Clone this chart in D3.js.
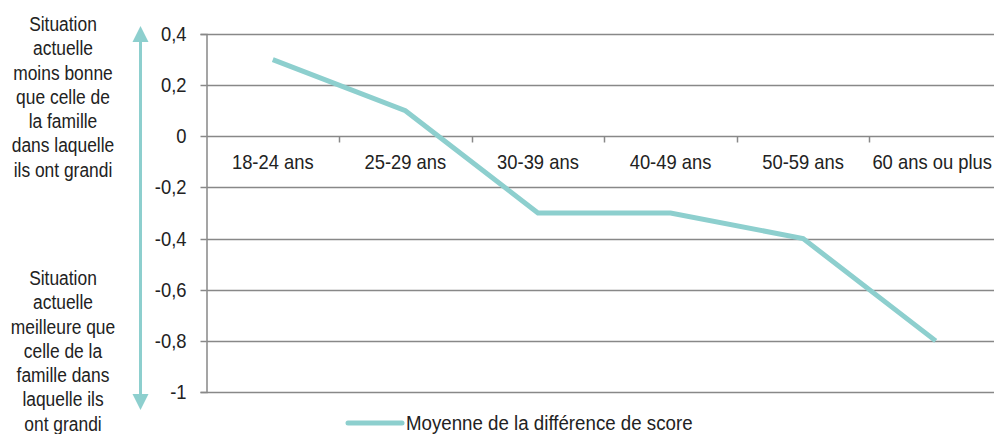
<!DOCTYPE html>
<html>
<head>
<meta charset="utf-8">
<script src="https://cdn.jsdelivr.net/npm/d3@7"></script>
<style>
  body { margin: 0; background: #fff; }
  svg { display: block; font-family: "Liberation Sans Narrow", "Arial Narrow", "Liberation Sans", Arial, sans-serif; }
</style>
</head>
<body>
<div id="chart"></div>
<script>
const categories = ["18-24 ans", "25-29 ans", "30-39 ans", "40-49 ans", "50-59 ans", "60 ans ou plus"];
const valeurs = [0.3, 0.1, -0.3, -0.3, -0.4, -0.8];
const yTicks = [0.4, 0.2, 0, -0.2, -0.4, -0.6, -0.8, -1];
const texteHaut = ["Situation", "actuelle", "moins bonne", "que celle de", "la famille", "dans laquelle", "ils ont grandi"];
const texteBas = ["Situation", "actuelle", "meilleure que", "celle de la", "famille dans", "laquelle ils", "ont grandi"];
const legende = "Moyenne de la différence de score";

const width = 994;
const height = 434;
const margin = { top: 34, right: -8, bottom: 42, left: 206.5 };
const teal = "#8dcfce";
const grid = "#888";
const taille = 20;

// police étroite absente : on resserre le texte à la main
const serrer = (sel, k, x0) => {
  sel.attr("transform", `scale(${k},1)`).attr("x", x0 / k);
};

const svg = d3
  .select("#chart")
  .append("svg")
  .attr("width", width)
  .attr("height", height);

const x = d3
  .scaleBand()
  .domain(categories)
  .range([margin.left, width - margin.right]);

const y = d3
  .scaleLinear()
  .domain([-1, 0.4])
  .range([height - margin.bottom, margin.top]);

const py = (v) => Math.round(y(v)) + 0.5;

// lignes horizontales
svg
  .append("g")
  .selectAll("line")
  .data(yTicks)
  .enter()
  .append("line")
  .attr("x1", margin.left)
  .attr("x2", width)
  .attr("y1", py)
  .attr("y2", py)
  .attr("stroke", grid)
  .attr("stroke-width", 1.5);

// axe vertical
const formatY = (d) => {
  if (d === 0) return "0";
  if (Math.abs(d) === 1) return d < 0 ? "-1" : "1";
  return d.toFixed(1).replace(".", ",");
};

const yAxis = svg
  .append("g")
  .attr("transform", `translate(${margin.left},0)`)
  .call(d3.axisLeft(y).tickValues(yTicks).tickSize(6).tickPadding(14).tickFormat(formatY));
yAxis.select(".domain").attr("stroke", grid).attr("stroke-width", 1.5);
yAxis
  .selectAll(".tick")
  .attr("transform", (d) => `translate(0,${py(d)})`);
yAxis.selectAll(".tick line").attr("stroke", grid).attr("stroke-width", 1.5);
yAxis
  .selectAll(".tick text")
  .attr("font-family", null)
  .attr("font-size", taille)
  .attr("fill", "#222")
  .call(serrer, 0.92, -20);

// axe des catégories sur la ligne 0
const xAxis = svg
  .append("g")
  .attr("transform", `translate(0,${py(0)})`)
  .call(d3.axisBottom(x).tickSize(0).tickPadding(18));
xAxis.select(".domain").remove();
xAxis
  .selectAll(".tick text")
  .attr("font-family", null)
  .attr("font-size", taille)
  .attr("fill", "#222")
  .call(serrer, 0.92, 0);

// la dernière étiquette dépasse le bord : on la ramène dedans
xAxis.selectAll(".tick").each(function (d) {
  const t = d3.select(this).select("text");
  const demi = (t.node().getComputedTextLength() * 0.92) / 2;
  const centre = x(d) + x.bandwidth() / 2;
  const depasse = centre + demi - (width - 2);
  if (depasse > 0) t.attr("x", -depasse / 0.92);
});

svg
  .append("g")
  .selectAll("line")
  .data(categories.slice(1))
  .enter()
  .append("line")
  .attr("x1", (d) => Math.round(x(d)) + 0.5)
  .attr("x2", (d) => Math.round(x(d)) + 0.5)
  .attr("y1", py(0))
  .attr("y2", py(0) + 6)
  .attr("stroke", grid)
  .attr("stroke-width", 1.5);

// courbe
const line = d3
  .line()
  .x((d, i) => x(categories[i]) + x.bandwidth() / 2)
  .y((d) => y(d));

svg
  .append("path")
  .datum(valeurs)
  .attr("d", line)
  .attr("fill", "none")
  .attr("stroke", teal)
  .attr("stroke-width", 5)
  .attr("stroke-linejoin", "miter");

// flèche double
const ax = 140.5;
svg
  .append("line")
  .attr("x1", ax)
  .attr("x2", ax)
  .attr("y1", 38)
  .attr("y2", 398)
  .attr("stroke", teal)
  .attr("stroke-width", 3);
svg
  .append("path")
  .attr("d", `M${ax},26 L${ax + 8},42 L${ax - 8},42 Z`)
  .attr("fill", teal);
svg
  .append("path")
  .attr("d", `M${ax},410 L${ax + 8},394 L${ax - 8},394 Z`)
  .attr("fill", teal);

// textes à gauche
const bloc = (lignes, y0) => {
  svg
    .append("g")
    .selectAll("text")
    .data(lignes)
    .enter()
    .append("text")
    .attr("y", (d, i) => y0 + i * 24.3)
    .attr("dy", "0.35em")
    .attr("text-anchor", "middle")
    .attr("font-size", taille)
    .attr("fill", "#222")
    .text((d) => d)
    .call(serrer, 0.87, 63);
};
bloc(texteHaut, 24);
bloc(texteBas, 278);

// légende
svg
  .append("line")
  .attr("x1", 348)
  .attr("x2", 402)
  .attr("y1", 423)
  .attr("y2", 423)
  .attr("stroke", teal)
  .attr("stroke-width", 5)
  .attr("stroke-linecap", "round");
svg
  .append("text")
  .attr("y", 423)
  .attr("dy", "0.35em")
  .attr("font-size", taille)
  .attr("fill", "#222")
  .text(legende)
  .call(serrer, 0.935, 406);
</script>
</body>
</html>
